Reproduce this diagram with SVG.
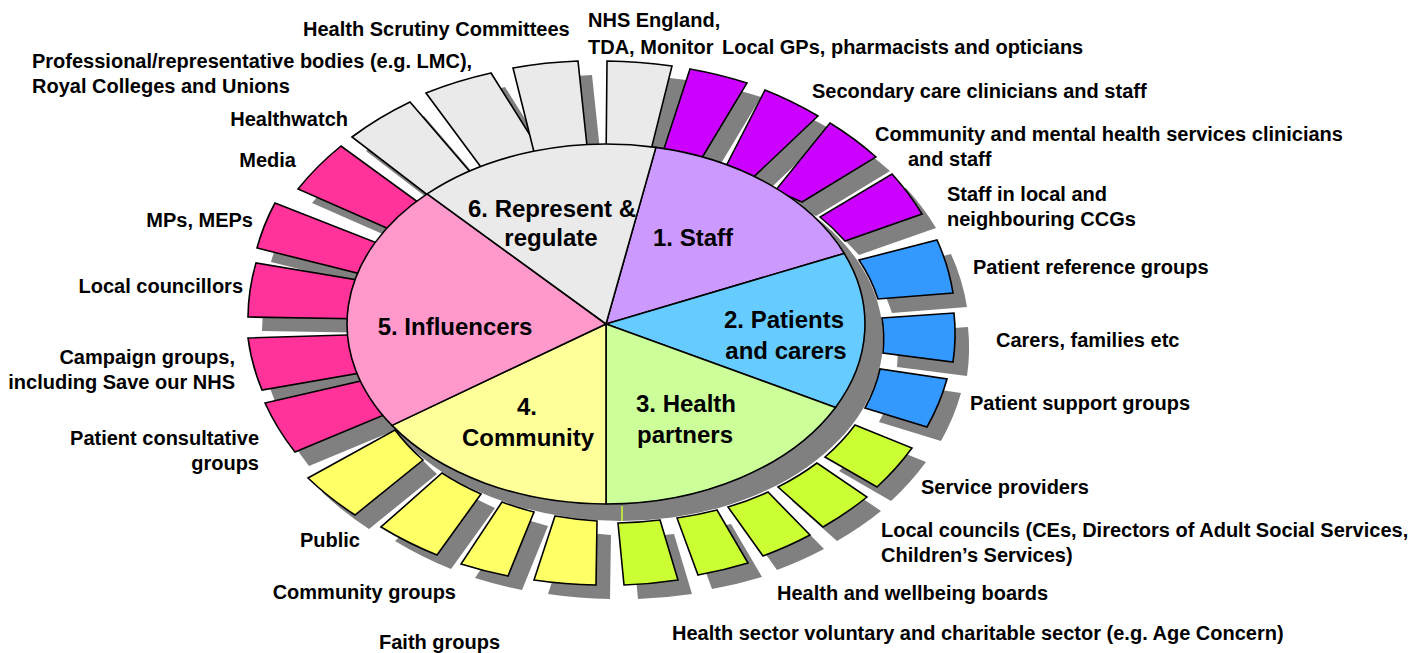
<svg xmlns="http://www.w3.org/2000/svg" xmlns:xlink="http://www.w3.org/1999/xlink" width="1426" height="653" viewBox="0 0 1426 653">
<style>
.sh{fill:#808080;stroke:none}
.tab{stroke:#000;stroke-width:1.6;stroke-linejoin:miter}
.sec{stroke:#000;stroke-width:1.6;stroke-linejoin:round}
.gy{fill:#EAEAEA}.pu{fill:#CC00FF}.bl{fill:#3399FF}.gr{fill:#CCFF33}.ye{fill:#FFFF66}.pk{fill:#FF3399}
text{font-family:"Liberation Sans",Arial,sans-serif;font-weight:bold;fill:#000}
.l{font-size:20px}
.e{text-anchor:end}
.c{font-size:24px;text-anchor:middle}
</style>
<defs>
<path id="t-g1" d="M352,137 A352,261 0 0 1 410,102 L481,184.5 A270,190 0 0 0 444.5,208 Z"/>
<path id="t-g2" d="M426,93 A352,261 0 0 1 491,73 L550,167 A270,190 0 0 0 493.5,184 Z"/>
<path id="t-g3" d="M513,68 A352,261 0 0 1 578,61 L589,165 A270,190 0 0 0 538,168 Z"/>
<path id="t-g4" d="M607,61 A352,261 0 0 1 672,66 L647,166 A270,190 0 0 0 606,165 Z"/>
<path id="t-p1" d="M690,69 A352,261 0 0 1 747,83 L694,171 A270,190 0 0 0 659,164 Z"/>
<path id="t-p2" d="M765,90 A352,261 0 0 1 818,116 L743,187 A270,190 0 0 0 720,178 Z"/>
<path id="t-p3" d="M830,123 A352,261 0 0 1 876,157 L802,202 A270,190 0 0 0 775,191 Z"/>
<path id="t-p4" d="M892,174 A352,261 0 0 1 922,214 L845,241 A270,190 0 0 0 820,217 Z"/>
<path id="t-b1" d="M937,240 A352,261 0 0 1 953,293 L878,299 A270,190 0 0 0 859,260 Z"/>
<path id="t-b2" d="M954,313 A352,261 0 0 1 953,362 L883,353 A270,190 0 0 0 882,318 Z"/>
<path id="t-b3" d="M947,379 A352,261 0 0 1 927,427 L865,408 A270,190 0 0 0 880,369 Z"/>
<path id="t-r1" d="M912,448 A352,261 0 0 1 877,487 L825,457 A270,190 0 0 0 855,425 Z"/>
<path id="t-r2" d="M867,497 A352,261 0 0 1 823,527 L778,487 A270,190 0 0 0 817,463 Z"/>
<path id="t-r3" d="M810,535 A352,261 0 0 1 763,556 L728,507 A270,190 0 0 0 768,492 Z"/>
<path id="t-r4" d="M748,563 A352,261 0 0 1 698,575 L677,518 A270,190 0 0 0 717,510 Z"/>
<path id="t-r5" d="M678,580 A352,261 0 0 1 624,585 L618,523 A270,190 0 0 0 660,520 Z"/>
<path id="t-y4" d="M596,585 A352,261 0 0 1 534,580 L555,516 A270,190 0 0 0 597,521 Z"/>
<path id="t-y3" d="M508,576 A352,261 0 0 1 461,564 L502,502 A270,190 0 0 0 534,512 Z"/>
<path id="t-y2" d="M437,555 A352,261 0 0 1 381,527 L442,473 A270,190 0 0 0 481,494 Z"/>
<path id="t-y1" d="M355,515 A352,261 0 0 1 308,478 L395,430 A270,190 0 0 0 423,460 Z"/>
<path id="t-k5" d="M295,452 A352,261 0 0 1 265,403 L374,378 A270,190 0 0 0 396,410 Z"/>
<path id="t-k4" d="M262,390 A352,261 0 0 1 248,338 L379,334 A270,190 0 0 0 377,370 Z"/>
<path id="t-k3" d="M248,317 A352,261 0 0 1 256,263 L375,283 A270,190 0 0 0 368,319 Z"/>
<path id="t-k2" d="M257,248 A352,261 0 0 1 275,203 L395,250 A270,190 0 0 0 377,278 Z"/>
<path id="t-k1" d="M298,189 A352,261 0 0 1 341,146 L433,213 A270,190 0 0 0 405,236 Z"/>
</defs>

<g id="shadows" transform="translate(14,14)">
<use xlink:href="#t-g1" class="sh"/><use xlink:href="#t-g2" class="sh"/><use xlink:href="#t-g3" class="sh"/><use xlink:href="#t-g4" class="sh"/>
<use xlink:href="#t-p1" class="sh"/><use xlink:href="#t-p2" class="sh"/><use xlink:href="#t-p3" class="sh"/><use xlink:href="#t-p4" class="sh"/>
<use xlink:href="#t-b1" class="sh"/><use xlink:href="#t-b2" class="sh"/><use xlink:href="#t-b3" class="sh"/>
<use xlink:href="#t-r1" class="sh"/><use xlink:href="#t-r2" class="sh"/><use xlink:href="#t-r3" class="sh"/><use xlink:href="#t-r4" class="sh"/><use xlink:href="#t-r5" class="sh"/>
<use xlink:href="#t-y4" class="sh"/><use xlink:href="#t-y3" class="sh"/><use xlink:href="#t-y2" class="sh"/><use xlink:href="#t-y1" class="sh"/>
<use xlink:href="#t-k5" class="sh"/><use xlink:href="#t-k4" class="sh"/><use xlink:href="#t-k3" class="sh"/><use xlink:href="#t-k2" class="sh"/><use xlink:href="#t-k1" class="sh"/>
</g>
<ellipse id="pie-shadow" cx="621" cy="339" rx="262" ry="182" class="sh"/>

<g id="tabs">
<g id="tab-healthwatch"><use xlink:href="#t-g1" class="tab gy"/><text class="l e" x="348" y="126">Healthwatch</text></g>
<g id="tab-professional"><use xlink:href="#t-g2" class="tab gy"/><text class="l" x="32" y="68">Professional/representative bodies (e.g. LMC),</text><text class="l" x="32" y="93">Royal Colleges and Unions</text></g>
<g id="tab-scrutiny"><use xlink:href="#t-g3" class="tab gy"/><text class="l" x="303" y="36">Health Scrutiny Committees</text></g>
<g id="tab-nhs"><use xlink:href="#t-g4" class="tab gy"/><text class="l" x="588" y="27">NHS England,</text><text class="l" x="588" y="54">TDA, Monitor</text></g>
<g id="tab-gps"><use xlink:href="#t-p1" class="tab pu"/><text class="l" x="722" y="54">Local GPs, pharmacists and opticians</text></g>
<g id="tab-secondary"><use xlink:href="#t-p2" class="tab pu"/><text class="l" x="812" y="98">Secondary care clinicians and staff</text></g>
<g id="tab-community-mh"><use xlink:href="#t-p3" class="tab pu"/><text class="l" x="875" y="141">Community and mental health services clinicians</text><text class="l" x="908" y="166">and staff</text></g>
<g id="tab-ccgs"><use xlink:href="#t-p4" class="tab pu"/><text class="l" x="947" y="201">Staff in local and</text><text class="l" x="947" y="226">neighbouring CCGs</text></g>
<g id="tab-prg"><use xlink:href="#t-b1" class="tab bl"/><text class="l" x="973" y="274">Patient reference groups</text></g>
<g id="tab-carers"><use xlink:href="#t-b2" class="tab bl"/><text class="l" x="996" y="347">Carers, families etc</text></g>
<g id="tab-psg"><use xlink:href="#t-b3" class="tab bl"/><text class="l" x="970" y="410">Patient support groups</text></g>
<g id="tab-providers"><use xlink:href="#t-r1" class="tab gr"/><text class="l" x="921" y="494">Service providers</text></g>
<g id="tab-councils"><use xlink:href="#t-r2" class="tab gr"/><text class="l" x="881" y="537">Local councils (CEs, Directors of Adult Social Services,</text><text class="l" x="881" y="562">Children’s Services)</text></g>
<g id="tab-hwb"><use xlink:href="#t-r3" class="tab gr"/><text class="l" x="777" y="600">Health and wellbeing boards</text></g>
<g id="tab-voluntary"><use xlink:href="#t-r4" class="tab gr"/><text class="l" x="672" y="640">Health sector voluntary and charitable sector (e.g. Age Concern)</text></g>
<g id="tab-green5"><use xlink:href="#t-r5" class="tab gr"/></g>
<g id="tab-yellow4"><use xlink:href="#t-y4" class="tab ye"/></g>
<g id="tab-faith"><use xlink:href="#t-y3" class="tab ye"/><text class="l" x="379" y="649">Faith groups</text></g>
<g id="tab-cgroups"><use xlink:href="#t-y2" class="tab ye"/><text class="l e" x="456" y="599">Community groups</text></g>
<g id="tab-public"><use xlink:href="#t-y1" class="tab ye"/><text class="l e" x="360" y="547">Public</text></g>
<g id="tab-pcg"><use xlink:href="#t-k5" class="tab pk"/><text class="l e" x="259" y="445">Patient consultative</text><text class="l e" x="259" y="470">groups</text></g>
<g id="tab-campaign"><use xlink:href="#t-k4" class="tab pk"/><text class="l e" x="235" y="364">Campaign groups,</text><text class="l e" x="235" y="389">including Save our NHS</text></g>
<g id="tab-councillors"><use xlink:href="#t-k3" class="tab pk"/><text class="l e" x="243" y="293">Local councillors</text></g>
<g id="tab-mps"><use xlink:href="#t-k2" class="tab pk"/><text class="l e" x="253" y="227">MPs, MEPs</text></g>
<g id="tab-media"><use xlink:href="#t-k1" class="tab pk"/><text class="l e" x="296" y="167">Media</text></g>
</g>

<g id="pie">
<g id="sector-staff"><path class="sec" fill="#CC99FF" d="M606,324 L655.9,147.4 A259,180 0 0 1 844.2,253.4 Z"/><text class="c" x="693" y="246">1. Staff</text></g>
<g id="sector-patients"><path class="sec" fill="#66CCFF" d="M606,324 L844.2,253.4 A259,180 0 0 1 835.5,407.4 Z"/><text class="c" x="784" y="328">2. Patients</text><text class="c" x="786" y="359">and carers</text></g>
<g id="sector-health"><path class="sec" fill="#CCFF99" d="M606,324 L835.5,407.4 A259,180 0 0 1 606,504 Z"/><line x1="622" y1="506" x2="622" y2="521" stroke="#CCFF33" stroke-width="1.5"/><text class="c" x="686" y="412">3. Health</text><text class="c" x="685" y="443">partners</text></g>
<g id="sector-community"><path class="sec" fill="#FFFF99" d="M606,324 L606,504 A259,180 0 0 1 392,425.4 Z"/><text class="c" x="527" y="415">4.</text><text class="c" x="528" y="446">Community</text></g>
<g id="sector-influencers"><path class="sec" fill="#FF99CC" d="M606,324 L392,425.4 A259,180 0 0 1 427.1,193.9 Z"/><text class="c" x="455" y="335">5. Influencers</text></g>
<g id="sector-represent"><path class="sec" fill="#EAEAEA" d="M606,324 L427.1,193.9 A259,180 0 0 1 655.9,147.4 Z"/><text class="c" x="552" y="217">6. Represent &amp;</text><text class="c" x="551" y="246">regulate</text></g>
</g>
</svg>
